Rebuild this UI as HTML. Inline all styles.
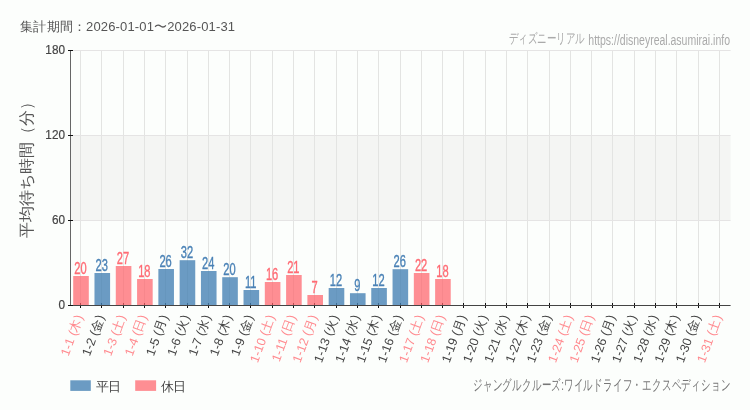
<!DOCTYPE html>
<html lang="ja"><head><meta charset="utf-8"><style>
html,body{margin:0;padding:0;background:#fcfefc;width:750px;height:410px;overflow:hidden;font-family:"Liberation Sans", sans-serif;}
svg{display:block;will-change:transform}
</style></head><body>
<svg width="750" height="410" viewBox="0 0 750 410" font-family='"Liberation Sans", sans-serif'><rect x="71" y="136" width="659.60" height="84" fill="#f4f5f3"/><line x1="80.5" y1="50" x2="80.5" y2="305" stroke="#e3e4e2"/><line x1="101.5" y1="50" x2="101.5" y2="305" stroke="#e3e4e2"/><line x1="123.5" y1="50" x2="123.5" y2="305" stroke="#e3e4e2"/><line x1="144.5" y1="50" x2="144.5" y2="305" stroke="#e3e4e2"/><line x1="165.5" y1="50" x2="165.5" y2="305" stroke="#e3e4e2"/><line x1="187.5" y1="50" x2="187.5" y2="305" stroke="#e3e4e2"/><line x1="208.5" y1="50" x2="208.5" y2="305" stroke="#e3e4e2"/><line x1="229.5" y1="50" x2="229.5" y2="305" stroke="#e3e4e2"/><line x1="250.5" y1="50" x2="250.5" y2="305" stroke="#e3e4e2"/><line x1="272.5" y1="50" x2="272.5" y2="305" stroke="#e3e4e2"/><line x1="293.5" y1="50" x2="293.5" y2="305" stroke="#e3e4e2"/><line x1="314.5" y1="50" x2="314.5" y2="305" stroke="#e3e4e2"/><line x1="336.5" y1="50" x2="336.5" y2="305" stroke="#e3e4e2"/><line x1="357.5" y1="50" x2="357.5" y2="305" stroke="#e3e4e2"/><line x1="378.5" y1="50" x2="378.5" y2="305" stroke="#e3e4e2"/><line x1="400.5" y1="50" x2="400.5" y2="305" stroke="#e3e4e2"/><line x1="421.5" y1="50" x2="421.5" y2="305" stroke="#e3e4e2"/><line x1="442.5" y1="50" x2="442.5" y2="305" stroke="#e3e4e2"/><line x1="463.5" y1="50" x2="463.5" y2="305" stroke="#e3e4e2"/><line x1="485.5" y1="50" x2="485.5" y2="305" stroke="#e3e4e2"/><line x1="506.5" y1="50" x2="506.5" y2="305" stroke="#e3e4e2"/><line x1="527.5" y1="50" x2="527.5" y2="305" stroke="#e3e4e2"/><line x1="549.5" y1="50" x2="549.5" y2="305" stroke="#e3e4e2"/><line x1="570.5" y1="50" x2="570.5" y2="305" stroke="#e3e4e2"/><line x1="591.5" y1="50" x2="591.5" y2="305" stroke="#e3e4e2"/><line x1="612.5" y1="50" x2="612.5" y2="305" stroke="#e3e4e2"/><line x1="634.5" y1="50" x2="634.5" y2="305" stroke="#e3e4e2"/><line x1="655.5" y1="50" x2="655.5" y2="305" stroke="#e3e4e2"/><line x1="676.5" y1="50" x2="676.5" y2="305" stroke="#e3e4e2"/><line x1="698.5" y1="50" x2="698.5" y2="305" stroke="#e3e4e2"/><line x1="719.5" y1="50" x2="719.5" y2="305" stroke="#e3e4e2"/><line x1="71" y1="50.5" x2="730.6" y2="50.5" stroke="#e5e4e4"/><line x1="71" y1="135.5" x2="730.6" y2="135.5" stroke="#e5e4e4"/><line x1="71" y1="220.5" x2="730.6" y2="220.5" stroke="#e5e4e4"/><line x1="80.5" y1="303" x2="80.5" y2="308" stroke="#111"/><line x1="101.5" y1="303" x2="101.5" y2="308" stroke="#111"/><line x1="123.5" y1="303" x2="123.5" y2="308" stroke="#111"/><line x1="144.5" y1="303" x2="144.5" y2="308" stroke="#111"/><line x1="165.5" y1="303" x2="165.5" y2="308" stroke="#111"/><line x1="187.5" y1="303" x2="187.5" y2="308" stroke="#111"/><line x1="208.5" y1="303" x2="208.5" y2="308" stroke="#111"/><line x1="229.5" y1="303" x2="229.5" y2="308" stroke="#111"/><line x1="250.5" y1="303" x2="250.5" y2="308" stroke="#111"/><line x1="272.5" y1="303" x2="272.5" y2="308" stroke="#111"/><line x1="293.5" y1="303" x2="293.5" y2="308" stroke="#111"/><line x1="314.5" y1="303" x2="314.5" y2="308" stroke="#111"/><line x1="336.5" y1="303" x2="336.5" y2="308" stroke="#111"/><line x1="357.5" y1="303" x2="357.5" y2="308" stroke="#111"/><line x1="378.5" y1="303" x2="378.5" y2="308" stroke="#111"/><line x1="400.5" y1="303" x2="400.5" y2="308" stroke="#111"/><line x1="421.5" y1="303" x2="421.5" y2="308" stroke="#111"/><line x1="442.5" y1="303" x2="442.5" y2="308" stroke="#111"/><line x1="463.5" y1="303" x2="463.5" y2="308" stroke="#111"/><line x1="485.5" y1="303" x2="485.5" y2="308" stroke="#111"/><line x1="506.5" y1="303" x2="506.5" y2="308" stroke="#111"/><line x1="527.5" y1="303" x2="527.5" y2="308" stroke="#111"/><line x1="549.5" y1="303" x2="549.5" y2="308" stroke="#111"/><line x1="570.5" y1="303" x2="570.5" y2="308" stroke="#111"/><line x1="591.5" y1="303" x2="591.5" y2="308" stroke="#111"/><line x1="612.5" y1="303" x2="612.5" y2="308" stroke="#111"/><line x1="634.5" y1="303" x2="634.5" y2="308" stroke="#111"/><line x1="655.5" y1="303" x2="655.5" y2="308" stroke="#111"/><line x1="676.5" y1="303" x2="676.5" y2="308" stroke="#111"/><line x1="698.5" y1="303" x2="698.5" y2="308" stroke="#111"/><line x1="719.5" y1="303" x2="719.5" y2="308" stroke="#111"/><rect x="73.20" y="276.00" width="15.6" height="29.00" fill="rgba(255,99,107,0.72)"/><text transform="translate(80.45,273.60) scale(0.7,1)" text-anchor="middle" font-weight="normal" font-size="15.9" fill="#ff6b74" stroke="#ff6b74" stroke-width="0.35">20</text><rect x="94.49" y="273.00" width="15.6" height="32.00" fill="rgba(70,130,180,0.8)"/><text transform="translate(101.74,270.60) scale(0.7,1)" text-anchor="middle" font-weight="normal" font-size="15.9" fill="#4a82b6" stroke="#4a82b6" stroke-width="0.35">23</text><rect x="115.78" y="266.00" width="15.6" height="39.00" fill="rgba(255,99,107,0.72)"/><text transform="translate(123.03,263.60) scale(0.7,1)" text-anchor="middle" font-weight="normal" font-size="15.9" fill="#ff6b74" stroke="#ff6b74" stroke-width="0.35">27</text><rect x="137.07" y="279.00" width="15.6" height="26.00" fill="rgba(255,99,107,0.72)"/><text transform="translate(144.32,276.60) scale(0.7,1)" text-anchor="middle" font-weight="normal" font-size="15.9" fill="#ff6b74" stroke="#ff6b74" stroke-width="0.35">18</text><rect x="158.36" y="269.00" width="15.6" height="36.00" fill="rgba(70,130,180,0.8)"/><text transform="translate(165.61,266.60) scale(0.7,1)" text-anchor="middle" font-weight="normal" font-size="15.9" fill="#4a82b6" stroke="#4a82b6" stroke-width="0.35">26</text><rect x="179.65" y="260.20" width="15.6" height="44.80" fill="rgba(70,130,180,0.8)"/><text transform="translate(186.90,257.80) scale(0.7,1)" text-anchor="middle" font-weight="normal" font-size="15.9" fill="#4a82b6" stroke="#4a82b6" stroke-width="0.35">32</text><rect x="200.94" y="271.00" width="15.6" height="34.00" fill="rgba(70,130,180,0.8)"/><text transform="translate(208.19,268.60) scale(0.7,1)" text-anchor="middle" font-weight="normal" font-size="15.9" fill="#4a82b6" stroke="#4a82b6" stroke-width="0.35">24</text><rect x="222.23" y="277.20" width="15.6" height="27.80" fill="rgba(70,130,180,0.8)"/><text transform="translate(229.48,274.80) scale(0.7,1)" text-anchor="middle" font-weight="normal" font-size="15.9" fill="#4a82b6" stroke="#4a82b6" stroke-width="0.35">20</text><rect x="243.52" y="290.00" width="15.6" height="15.00" fill="rgba(70,130,180,0.8)"/><text transform="translate(250.77,287.60) scale(0.7,1)" text-anchor="middle" font-weight="normal" font-size="15.9" fill="#4a82b6" stroke="#4a82b6" stroke-width="0.35">11</text><rect x="264.81" y="282.00" width="15.6" height="23.00" fill="rgba(255,99,107,0.72)"/><text transform="translate(272.06,279.60) scale(0.7,1)" text-anchor="middle" font-weight="normal" font-size="15.9" fill="#ff6b74" stroke="#ff6b74" stroke-width="0.35">16</text><rect x="286.10" y="275.00" width="15.6" height="30.00" fill="rgba(255,99,107,0.72)"/><text transform="translate(293.35,272.60) scale(0.7,1)" text-anchor="middle" font-weight="normal" font-size="15.9" fill="#ff6b74" stroke="#ff6b74" stroke-width="0.35">21</text><rect x="307.39" y="295.00" width="15.6" height="10.00" fill="rgba(255,99,107,0.72)"/><text transform="translate(314.64,292.60) scale(0.7,1)" text-anchor="middle" font-weight="normal" font-size="15.9" fill="#ff6b74" stroke="#ff6b74" stroke-width="0.35">7</text><rect x="328.68" y="288.00" width="15.6" height="17.00" fill="rgba(70,130,180,0.8)"/><text transform="translate(335.93,285.60) scale(0.7,1)" text-anchor="middle" font-weight="normal" font-size="15.9" fill="#4a82b6" stroke="#4a82b6" stroke-width="0.35">12</text><rect x="349.97" y="293.20" width="15.6" height="11.80" fill="rgba(70,130,180,0.8)"/><text transform="translate(357.22,290.80) scale(0.7,1)" text-anchor="middle" font-weight="normal" font-size="15.9" fill="#4a82b6" stroke="#4a82b6" stroke-width="0.35">9</text><rect x="371.26" y="288.00" width="15.6" height="17.00" fill="rgba(70,130,180,0.8)"/><text transform="translate(378.51,285.60) scale(0.7,1)" text-anchor="middle" font-weight="normal" font-size="15.9" fill="#4a82b6" stroke="#4a82b6" stroke-width="0.35">12</text><rect x="392.55" y="269.20" width="15.6" height="35.80" fill="rgba(70,130,180,0.8)"/><text transform="translate(399.80,266.80) scale(0.7,1)" text-anchor="middle" font-weight="normal" font-size="15.9" fill="#4a82b6" stroke="#4a82b6" stroke-width="0.35">26</text><rect x="413.84" y="273.00" width="15.6" height="32.00" fill="rgba(255,99,107,0.72)"/><text transform="translate(421.09,270.60) scale(0.7,1)" text-anchor="middle" font-weight="normal" font-size="15.9" fill="#ff6b74" stroke="#ff6b74" stroke-width="0.35">22</text><rect x="435.13" y="279.00" width="15.6" height="26.00" fill="rgba(255,99,107,0.72)"/><text transform="translate(442.38,276.60) scale(0.7,1)" text-anchor="middle" font-weight="normal" font-size="15.9" fill="#ff6b74" stroke="#ff6b74" stroke-width="0.35">18</text><line x1="70.5" y1="51" x2="70.5" y2="306" stroke="#666"/><line x1="68" y1="305.5" x2="730.6" y2="305.5" stroke="#444"/><line x1="68" y1="50.5" x2="73" y2="50.5" stroke="#111"/><text transform="translate(65,54.32) scale(0.92,1)" text-anchor="end" font-size="12.8" fill="#444" stroke="#444" stroke-width="0.2">180</text><line x1="68" y1="135.5" x2="73" y2="135.5" stroke="#111"/><text transform="translate(65,139.33) scale(0.92,1)" text-anchor="end" font-size="12.8" fill="#444" stroke="#444" stroke-width="0.2">120</text><line x1="68" y1="220.5" x2="73" y2="220.5" stroke="#111"/><text transform="translate(65,224.34) scale(0.92,1)" text-anchor="end" font-size="12.8" fill="#444" stroke="#444" stroke-width="0.2">60</text><line x1="68" y1="305.5" x2="73" y2="305.5" stroke="#111"/><text transform="translate(65,309.35) scale(0.92,1)" text-anchor="end" font-size="12.8" fill="#444" stroke="#444" stroke-width="0.2">0</text><text transform="translate(79.45,315.20) rotate(-70)" text-anchor="end" dominant-baseline="central" font-size="12.5" fill="#ff8a8f">1-1 (木)</text><text transform="translate(100.74,315.20) rotate(-70)" text-anchor="end" dominant-baseline="central" font-size="12.5" fill="#444">1-2 (金)</text><text transform="translate(122.03,315.20) rotate(-70)" text-anchor="end" dominant-baseline="central" font-size="12.5" fill="#ff8a8f">1-3 (土)</text><text transform="translate(143.32,315.20) rotate(-70)" text-anchor="end" dominant-baseline="central" font-size="12.5" fill="#ff8a8f">1-4 (日)</text><text transform="translate(164.61,315.20) rotate(-70)" text-anchor="end" dominant-baseline="central" font-size="12.5" fill="#444">1-5 (月)</text><text transform="translate(185.90,315.20) rotate(-70)" text-anchor="end" dominant-baseline="central" font-size="12.5" fill="#444">1-6 (火)</text><text transform="translate(207.19,315.20) rotate(-70)" text-anchor="end" dominant-baseline="central" font-size="12.5" fill="#444">1-7 (水)</text><text transform="translate(228.48,315.20) rotate(-70)" text-anchor="end" dominant-baseline="central" font-size="12.5" fill="#444">1-8 (木)</text><text transform="translate(249.77,315.20) rotate(-70)" text-anchor="end" dominant-baseline="central" font-size="12.5" fill="#444">1-9 (金)</text><text transform="translate(271.06,315.20) rotate(-70)" text-anchor="end" dominant-baseline="central" font-size="12.5" fill="#ff8a8f">1-10 (土)</text><text transform="translate(292.35,315.20) rotate(-70)" text-anchor="end" dominant-baseline="central" font-size="12.5" fill="#ff8a8f">1-11 (日)</text><text transform="translate(313.64,315.20) rotate(-70)" text-anchor="end" dominant-baseline="central" font-size="12.5" fill="#ff8a8f">1-12 (月)</text><text transform="translate(334.93,315.20) rotate(-70)" text-anchor="end" dominant-baseline="central" font-size="12.5" fill="#444">1-13 (火)</text><text transform="translate(356.22,315.20) rotate(-70)" text-anchor="end" dominant-baseline="central" font-size="12.5" fill="#444">1-14 (水)</text><text transform="translate(377.51,315.20) rotate(-70)" text-anchor="end" dominant-baseline="central" font-size="12.5" fill="#444">1-15 (木)</text><text transform="translate(398.80,315.20) rotate(-70)" text-anchor="end" dominant-baseline="central" font-size="12.5" fill="#444">1-16 (金)</text><text transform="translate(420.09,315.20) rotate(-70)" text-anchor="end" dominant-baseline="central" font-size="12.5" fill="#ff8a8f">1-17 (土)</text><text transform="translate(441.38,315.20) rotate(-70)" text-anchor="end" dominant-baseline="central" font-size="12.5" fill="#ff8a8f">1-18 (日)</text><text transform="translate(462.67,315.20) rotate(-70)" text-anchor="end" dominant-baseline="central" font-size="12.5" fill="#444">1-19 (月)</text><text transform="translate(483.96,315.20) rotate(-70)" text-anchor="end" dominant-baseline="central" font-size="12.5" fill="#444">1-20 (火)</text><text transform="translate(505.25,315.20) rotate(-70)" text-anchor="end" dominant-baseline="central" font-size="12.5" fill="#444">1-21 (水)</text><text transform="translate(526.54,315.20) rotate(-70)" text-anchor="end" dominant-baseline="central" font-size="12.5" fill="#444">1-22 (木)</text><text transform="translate(547.83,315.20) rotate(-70)" text-anchor="end" dominant-baseline="central" font-size="12.5" fill="#444">1-23 (金)</text><text transform="translate(569.12,315.20) rotate(-70)" text-anchor="end" dominant-baseline="central" font-size="12.5" fill="#ff8a8f">1-24 (土)</text><text transform="translate(590.41,315.20) rotate(-70)" text-anchor="end" dominant-baseline="central" font-size="12.5" fill="#ff8a8f">1-25 (日)</text><text transform="translate(611.70,315.20) rotate(-70)" text-anchor="end" dominant-baseline="central" font-size="12.5" fill="#444">1-26 (月)</text><text transform="translate(632.99,315.20) rotate(-70)" text-anchor="end" dominant-baseline="central" font-size="12.5" fill="#444">1-27 (火)</text><text transform="translate(654.28,315.20) rotate(-70)" text-anchor="end" dominant-baseline="central" font-size="12.5" fill="#444">1-28 (水)</text><text transform="translate(675.57,315.20) rotate(-70)" text-anchor="end" dominant-baseline="central" font-size="12.5" fill="#444">1-29 (木)</text><text transform="translate(696.86,315.20) rotate(-70)" text-anchor="end" dominant-baseline="central" font-size="12.5" fill="#444">1-30 (金)</text><text transform="translate(718.15,315.20) rotate(-70)" text-anchor="end" dominant-baseline="central" font-size="12.5" fill="#ff8a8f">1-31 (土)</text><text x="20.3" y="31" font-size="13" fill="#555" letter-spacing="0.15">集計期間：2026-01-01〜2026-01-31</text><text transform="translate(730,44.5) scale(0.75,1)" text-anchor="end" font-size="14" fill="#aaa">https://disneyreal.asumirai.info</text><text transform="translate(585,42.5) scale(0.68,1)" text-anchor="end" font-size="14" fill="#aaa">ディズニーリアル</text><text transform="translate(32,166) rotate(-90)" text-anchor="middle" font-size="16.2" fill="#555">平均待ち時間（分）</text><rect x="70.3" y="380.3" width="20.5" height="10.6" fill="rgba(70,130,180,0.8)"/><text x="95.5" y="390.5" font-size="13" fill="#444" letter-spacing="-0.6">平日</text><rect x="135.2" y="380.3" width="20.9" height="10.6" fill="rgba(255,99,107,0.72)"/><text x="160.8" y="390.5" font-size="13" fill="#444" letter-spacing="-0.6">休日</text><text transform="translate(730.5,390.2) scale(0.63,1)" text-anchor="end" font-size="15.5" fill="#777">ジャングルクルーズ:ワイルドライフ・エクスペディション</text></svg>
</body></html>
